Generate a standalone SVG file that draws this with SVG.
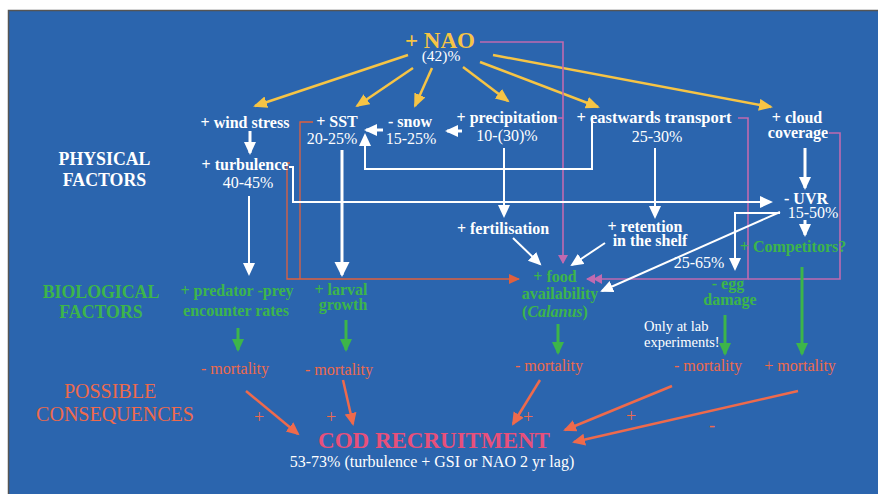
<svg xmlns="http://www.w3.org/2000/svg" width="878" height="494" viewBox="0 0 878 494">
<style>
text{font-family:'Liberation Serif','Times New Roman',serif;text-anchor:middle}
.b{font-weight:bold}
.w{fill:#ffffff}
.y{fill:#F6C445}
.g{fill:#3DB54A}
.o{fill:#EE6A4C}
.s15{font-size:16px}
.s16{font-size:16px}
.h{font-size:17.8px}
.m{font-size:16px}
.cy{stroke:#F6C445;stroke-width:2.5;fill:none}
.cw{stroke:#ffffff;stroke-width:2;fill:none}
.cwt{stroke:#ffffff;stroke-width:3;fill:none}
.cg{stroke:#3DB54A;stroke-width:3;fill:none}
.co{stroke:#EE6A4C;stroke-width:2.5;fill:none}
.cr{stroke:#E0603E;stroke-width:1.3;fill:none}
.cp{stroke:#C06AB0;stroke-width:1.6;fill:none}
</style>
<defs>
<marker id="ay" markerUnits="userSpaceOnUse" markerWidth="16" markerHeight="14" refX="12" refY="6" orient="auto"><path d="M0,0 L14,6 L0,12 z" fill="#F6C445"/></marker>
<marker id="aw" markerUnits="userSpaceOnUse" markerWidth="16" markerHeight="14" refX="11" refY="6" orient="auto"><path d="M0,0 L13,6 L0,12 z" fill="#ffffff"/></marker>
<marker id="awb" markerUnits="userSpaceOnUse" markerWidth="18" markerHeight="16" refX="13" refY="7.5" orient="auto"><path d="M0,0 L15,7.5 L0,15 z" fill="#ffffff"/></marker>
<marker id="ag" markerUnits="userSpaceOnUse" markerWidth="16" markerHeight="14" refX="11" refY="6" orient="auto"><path d="M0,0 L13,6 L0,12 z" fill="#3DB54A"/></marker>
<marker id="ao" markerUnits="userSpaceOnUse" markerWidth="16" markerHeight="14" refX="11" refY="6" orient="auto"><path d="M0,0 L13,6 L0,12 z" fill="#EE6A4C"/></marker>
<marker id="ar" markerUnits="userSpaceOnUse" markerWidth="14" markerHeight="12" refX="10" refY="5" orient="auto"><path d="M0,0 L11,5 L0,10 z" fill="#E0603E"/></marker>
<marker id="ap" markerUnits="userSpaceOnUse" markerWidth="12" markerHeight="12" refX="8" refY="5" orient="auto"><path d="M0,0 L9,5 L0,10 z" fill="#C06AB0"/></marker>
<marker id="app" markerUnits="userSpaceOnUse" markerWidth="18" markerHeight="12" refX="15" refY="5" orient="auto"><path d="M0,0 L9,5 L0,10 z M7,0 L16,5 L7,10 z" fill="#C06AB0"/></marker>
</defs>
<rect x="8.5" y="10.5" width="880" height="490" fill="#2B65AE" stroke="#555" stroke-width="1.5"/>

<g id="connectors">
<line class="cy" x1="408" y1="55" x2="255" y2="106" marker-end="url(#ay)"/>
<line class="cy" x1="413" y1="68" x2="357" y2="106" marker-end="url(#ay)"/>
<line class="cy" x1="432" y1="68" x2="415" y2="106" marker-end="url(#ay)"/>
<line class="cy" x1="463" y1="67" x2="508" y2="101" marker-end="url(#ay)"/>
<line class="cy" x1="480" y1="62" x2="598" y2="107" marker-end="url(#ay)"/>
<line class="cy" x1="493" y1="55" x2="771" y2="107" marker-end="url(#ay)"/>
<path class="cp" d="M480,42 H563 V263" marker-end="url(#ap)"/>
<path class="cp" d="M558,118 H563"/>
<path class="cp" d="M738,118 H748 V279 H587" marker-end="url(#app)"/>
<path class="cp" d="M829,133 H840 V279 H748"/>
<path class="cr" d="M290,163 H287 V279 H519" marker-end="url(#ar)"/>
<path class="cr" d="M313,122 H300 V279"/>
<line class="cwt" x1="250" y1="131" x2="250" y2="153" marker-end="url(#aw)"/>
<line class="cw" x1="249" y1="196" x2="249" y2="274" marker-end="url(#aw)"/>
<line class="cwt" x1="342" y1="150" x2="342" y2="275" marker-end="url(#awb)"/>
<line class="cwt" x1="383" y1="130" x2="366" y2="130" marker-end="url(#aw)"/>
<line class="cwt" x1="462" y1="131" x2="447" y2="131" marker-end="url(#aw)"/>
<path class="cw" d="M592,118 V169 H365 V135" stroke-width="2.5" marker-end="url(#aw)"/>
<line class="cw" x1="504" y1="148" x2="504" y2="216" marker-end="url(#aw)"/>
<line class="cw" x1="513" y1="238" x2="540" y2="264" marker-end="url(#aw)"/>
<line class="cw" x1="605" y1="243" x2="572" y2="265" marker-end="url(#aw)"/>
<line class="cw" x1="655" y1="148" x2="655" y2="217" marker-end="url(#aw)"/>
<line class="cwt" x1="805" y1="148" x2="805" y2="188" marker-end="url(#aw)"/>
<path class="cw" d="M289,167 H293 V202 H771" stroke-width="2.5" marker-end="url(#aw)"/>
<line class="cwt" x1="805" y1="220" x2="805" y2="235" marker-end="url(#aw)"/>
<line class="cw" x1="780" y1="212" x2="602" y2="291" marker-end="url(#aw)"/>
<path class="cw" d="M780,213 H735 V269" marker-end="url(#aw)"/>
<line class="cg" x1="238" y1="328" x2="238" y2="350" marker-end="url(#ag)"/>
<line class="cg" x1="346" y1="320" x2="346" y2="350" marker-end="url(#ag)"/>
<line class="cg" x1="558" y1="324" x2="558" y2="353" marker-end="url(#ag)"/>
<line class="cg" x1="725" y1="315" x2="725" y2="354" marker-end="url(#ag)"/>
<line class="cg" x1="802" y1="267" x2="802" y2="354" marker-end="url(#ag)"/>
<line class="co" x1="246" y1="391" x2="298" y2="434" marker-end="url(#ao)"/>
<line class="co" x1="343" y1="380" x2="353" y2="424" marker-end="url(#ao)"/>
<line class="co" x1="540" y1="380" x2="513" y2="424" marker-end="url(#ao)"/>
<line class="co" x1="672" y1="386" x2="565" y2="430" marker-end="url(#ao)"/>
<line class="co" x1="798" y1="391" x2="574" y2="442" marker-end="url(#ao)"/>
</g>

<g id="nao"><text class="b y" x="440" y="48" font-size="23">+ NAO</text><text class="w" x="441" y="61" font-size="15.5">(42)%</text></g>
<g id="physical-factors" class="b w h"><text x="104.5" y="165">PHYSICAL</text><text x="104.5" y="186">FACTORS</text></g>
<g id="wind-stress"><text class="b w s15" x="245" y="128">+ wind stress</text></g>
<g id="sst"><text class="b w s15" x="337" y="127">+ SST</text><text class="w s16" x="332" y="144">20-25%</text></g>
<g id="snow"><text class="b w s15" x="410" y="127">- snow</text><text class="w s16" x="411" y="144">15-25%</text></g>
<g id="precipitation"><text class="b w s15" x="507" y="123">+ precipitation</text><text class="w s16" x="507" y="141">10-(30)%</text></g>
<g id="eastwards-transport"><text class="b w" x="654" y="123" font-size="16.5">+ eastwards transport</text><text class="w s16" x="657" y="142">25-30%</text></g>
<g id="cloud-coverage" class="b w s15"><text x="797" y="123">+ cloud</text><text x="798" y="138">coverage</text></g>
<g id="turbulence"><text class="b w s15" x="245" y="170">+ turbulence</text><text class="w s16" x="248" y="188">40-45%</text></g>
<g id="uvr"><text class="b w" x="806" y="204" font-size="16">- UVR</text><text class="w s16" x="813" y="218">15-50%</text></g>
<g id="fertilisation"><text class="b w s15" x="503" y="234">+ fertilisation</text></g>
<g id="retention" class="b w s15"><text x="645" y="232">+ retention</text><text x="650" y="246">in the shelf</text></g>
<g id="competitors"><text class="b g s15" x="793" y="252">+ Competitors?</text></g>
<g id="label-25-65"><text class="w s16" x="699" y="268">25-65%</text></g>
<g id="biological-factors" class="b g h"><text x="101" y="298">BIOLOGICAL</text><text x="101" y="318">FACTORS</text></g>
<g id="predator-prey" class="b g s15"><text x="237" y="296">+ predator -prey</text><text x="236" y="316">encounter rates</text></g>
<g id="larval-growth" class="b g s15"><text x="341" y="295">+ larval</text><text x="343" y="310">growth</text></g>
<g id="food-availability" class="b g s15"><text x="555" y="282">+ food</text><text x="560" y="299">availability</text><text x="555" y="317">(<tspan font-style="italic">Calanus</tspan>)</text></g>
<g id="egg-damage" class="b g s15"><text x="728" y="289">- egg</text><text x="730" y="305">damage</text></g>
<g id="lab-note" class="w" font-size="14.5"><text x="644" y="331" style="text-anchor:start">Only at lab</text><text x="644" y="347" style="text-anchor:start">experiments!</text></g>
<g id="possible-consequences" class="o" font-size="20"><text x="110" y="398">POSSIBLE</text><text x="115" y="421">CONSEQUENCES</text></g>
<g id="mortality-1"><text class="o m" x="235" y="374">- mortality</text></g>
<g id="mortality-2"><text class="o m" x="339" y="375">- mortality</text></g>
<g id="mortality-3"><text class="o m" x="549" y="371">- mortality</text></g>
<g id="mortality-4"><text class="o m" x="708" y="371">- mortality</text></g>
<g id="mortality-5"><text class="o m" x="800" y="371">+ mortality</text></g>
<g id="signs" class="o" font-size="18"><text x="259" y="423">+</text><text x="331" y="423">+</text><text x="528" y="423">+</text><text x="631" y="422">+</text><text x="712" y="431">-</text></g>
<g id="cod-recruitment"><text class="b" x="434" y="448" font-size="23" fill="#E8507A">COD RECRUITMENT</text><text class="w" x="432" y="467" font-size="16">53-73% (turbulence + GSI or NAO 2 yr lag)</text></g>
</svg>
